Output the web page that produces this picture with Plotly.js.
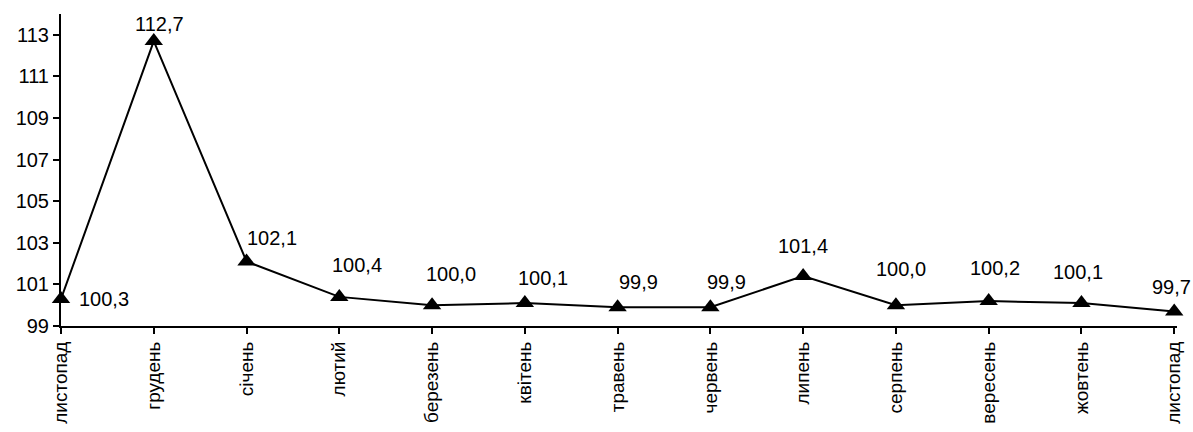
<!DOCTYPE html>
<html>
<head>
<meta charset="utf-8">
<script src="https://cdn.plot.ly/plotly-3.0.1.min.js"></script>
<style>html,body{margin:0;padding:0;background:#fff;}#chart{width:1193px;height:432px;}</style>
</head>
<body>
<div id="chart"></div>
<script>
const months = ["листопад","грудень","січень","лютий","березень","квітень","травень","червень","липень","серпень","вересень","жовтень","листопад"];
const values = [100.3,112.7,102.1,100.4,100.0,100.1,99.9,99.9,101.4,100.0,100.2,100.1,99.7];
const yTicks = [99,101,103,105,107,109,111,113];

// label offsets (pixels) – styling only
const labelDx = [43,6,25,18,19,18,21,16,0,5,6,-3,-3];
const labelDy = [0,17,24,32,31,25,25,25,30,36,33,31,24];

const idx = months.map((_, i) => i);
const fmt = v => v.toFixed(1).replace('.', ',');

const trace = {
  x: idx, y: values, type: 'scatter', mode: 'lines+markers',
  line: {color: '#000', width: 2},
  marker: {symbol: 'triangle-up', size: 16, color: '#000'},
  cliponaxis: false, hoverinfo: 'none'
};

const annotations = values.map((v, i) => ({
  x: i, y: v, xref: 'x', yref: 'y', text: fmt(v), showarrow: false,
  xshift: labelDx[i], yshift: labelDy[i],
  font: {family: 'Liberation Sans, Arial, sans-serif', size: 20, color: '#000'}
}));

const layout = {
  width: 1193, height: 432,
  margin: {l: 61, r: 16, t: 14, b: 106},
  paper_bgcolor: '#fff', plot_bgcolor: '#fff',
  showlegend: false,
  font: {family: 'Liberation Sans, Arial, sans-serif', size: 20, color: '#000'},
  xaxis: {
    range: [0, 12.03], tickmode: 'array', tickvals: idx, ticktext: months,
    tickangle: -90, ticks: 'outside', ticklen: 6, tickwidth: 2, tickcolor: '#000',
    showline: true, linecolor: '#000', linewidth: 2, showgrid: false, zeroline: false,
    tickfont: {size: 19}
  },
  yaxis: {
    range: [99, 114], tickmode: 'array', tickvals: yTicks, ticktext: yTicks.map(String),
    ticks: 'outside', ticklen: 6, tickwidth: 2, tickcolor: '#000',
    showline: true, linecolor: '#000', linewidth: 2, showgrid: false, zeroline: false,
    tickfont: {size: 20}
  },
  annotations: annotations
};

Plotly.newPlot('chart', [trace], layout, {displayModeBar: false, staticPlot: true});
</script>
</body>
</html>
